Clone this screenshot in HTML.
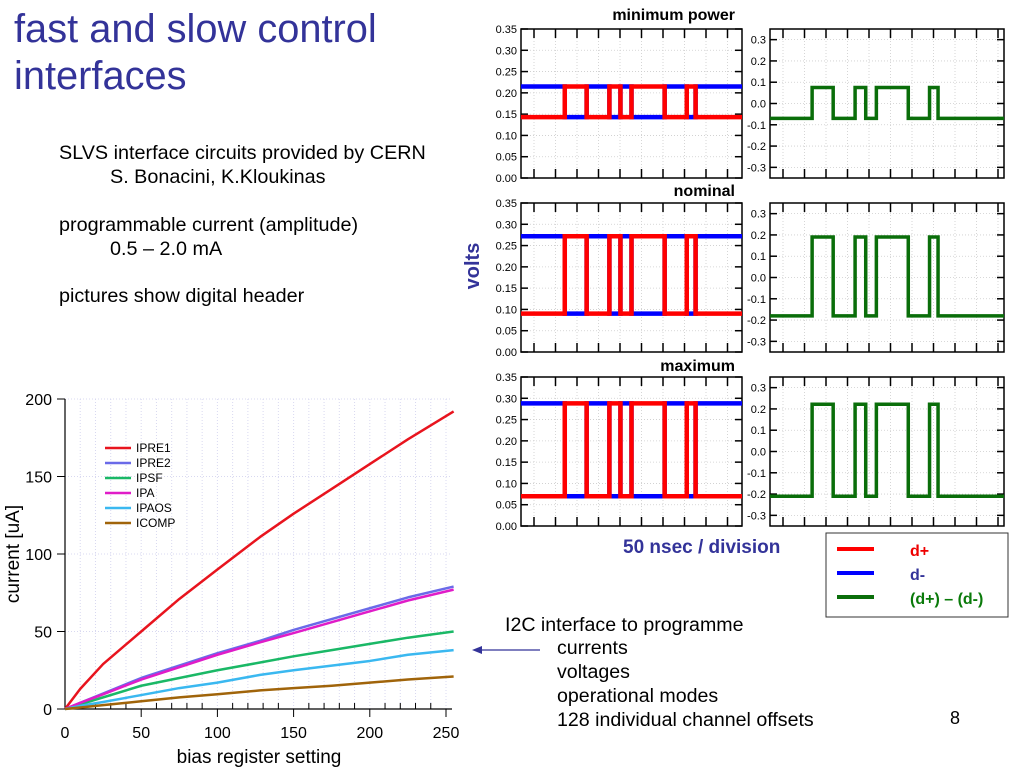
<!DOCTYPE html>
<html><head><meta charset="utf-8"><style>
html,body{margin:0;padding:0;background:#fff;}
svg{display:block;font-family:"Liberation Sans",sans-serif;}
</style></head><body>
<svg id="s" width="1024" height="768" viewBox="0 0 1024 768" xmlns="http://www.w3.org/2000/svg">
<g fill="#333399" font-size="39.8">
<text x="14" y="42">fast and slow control</text>
<text x="14" y="89">interfaces</text>
</g>
<g font-size="19.8" fill="#000">
<text x="59" y="159">SLVS interface circuits provided by CERN</text>
<text x="110" y="183">S. Bonacini, K.Kloukinas</text>
<text x="59" y="231">programmable current (amplitude)</text>
<text x="110" y="255">0.5 – 2.0 mA</text>
<text x="59" y="302">pictures show digital header</text>
</g>
<text transform="translate(479,266) rotate(-90)" text-anchor="middle" font-weight="bold" font-size="20" fill="#333399">volts</text>
<text x="623" y="553" font-weight="bold" font-size="19" fill="#333399">50 nsec / division</text>
<g>
<rect x="826" y="533" width="182" height="84" fill="#fff" stroke="#333" stroke-width="1"/>
<line x1="837" y1="549" x2="874" y2="549" stroke="#f00" stroke-width="4"/>
<text x="910" y="556" font-weight="bold" font-size="16" fill="#e00">d+</text>
<line x1="837" y1="573" x2="874" y2="573" stroke="#00f" stroke-width="4"/>
<text x="910" y="580" font-weight="bold" font-size="16" fill="#333399">d-</text>
<line x1="837" y1="597" x2="874" y2="597" stroke="#0a6e0a" stroke-width="4"/>
<text x="910" y="604" font-weight="bold" font-size="16" fill="#0a7a0a">(d+) – (d-)</text>
</g>
<g font-size="19.6" fill="#000">
<text x="505" y="631">I2C interface to programme</text>
<text x="557" y="654">currents</text>
<text x="557" y="678">voltages</text>
<text x="557" y="702">operational modes</text>
<text x="557" y="726">128 individual channel offsets</text>
</g>
<text x="950" y="724" font-size="18">8</text>
<g>
<line x1="540" y1="650" x2="480" y2="650" stroke="#333399" stroke-width="1.2"/>
<polygon points="472,650 482,646 482,654" fill="#333399"/>
</g>
<g id="scopes"></g>
<g id="bias"></g>
</svg>
<script>
// ---- scope data ----
const edgeTimes = [0.198, 0.297, 0.40, 0.45, 0.50, 0.65, 0.75, 0.79]; // fraction of left panel time span
const panelNames = ["minimum power", "nominal", "maximum"];
const highLevels = [0.215, 0.272, 0.288];
const lowLevels = [0.143, 0.090, 0.070];
const diffHigh = [0.075, 0.190, 0.222];
const diffLow = [-0.070, -0.180, -0.210];
const leftTicks = [0, 0.05, 0.10, 0.15, 0.20, 0.25, 0.30, 0.35];
const leftTickLabels = ["0.00","0.05","0.10","0.15","0.20","0.25","0.30","0.35"];
const rightTicks = [-0.3, -0.2, -0.1, 0, 0.1, 0.2, 0.3];
const rightTickLabels = ["-0.3","-0.2","-0.1","0.0","0.1","0.2","0.3"];

// ---- bias chart data ----
const biasX = [0, 10, 25, 50, 75, 100, 128, 150, 175, 200, 225, 255];
const IPRE1 = [0, 13, 29, 50, 71, 90, 111, 126, 142, 158, 174, 192];
const IPRE2 = [0, 4, 10, 20, 28, 36, 44, 51, 58, 65, 72, 79];
const IPSF = [0, 3, 7.5, 15, 20, 25, 30, 34, 38, 42, 46, 50];
const IPA = [0, 4, 9.5, 19, 27, 35, 43, 49, 56, 63, 70, 77];
const IPAOS = [0, 2, 4.5, 9, 13.5, 17, 22, 25, 28, 31, 35, 38];
const ICOMP = [0, 1, 2.5, 5, 7.5, 9.5, 12, 13.5, 15, 17, 19, 21];
const seriesNames = ["IPRE1","IPRE2","IPSF","IPA","IPAOS","ICOMP"];
const xTicks = [0, 50, 100, 150, 200, 250];
const yTicks = [0, 50, 100, 150, 200];

const NS = "http://www.w3.org/2000/svg";
function mk(tag, attrs, parent, txt){
  const e = document.createElementNS(NS, tag);
  for (const k in attrs) e.setAttribute(k, attrs[k]);
  if (txt !== undefined) e.textContent = txt;
  parent.appendChild(e); return e;
}

// ---- scopes ----
const scopes = document.getElementById("scopes");
const frames = [[29,178],[203,352],[377,526]];
const titleY = [20, 196, 371];
const L = {x0:521, x1:742}, R = {x0:770, x1:1004};
function stepPath(sx, sy, startHigh, hi, lo, end){
  let lvl = startHigh;
  let d = "M" + sx(0) + "," + sy(lvl ? hi : lo);
  edgeTimes.forEach(t => {
    d += " L" + sx(t) + "," + sy(lvl ? hi : lo);
    lvl = !lvl;
    d += " L" + sx(t) + "," + sy(lvl ? hi : lo);
  });
  d += " L" + sx(end) + "," + sy(lvl ? hi : lo);
  return d;
}
panelNames.forEach((name, i) => {
  const [top, bot] = frames[i];
  const g = mk("g", {}, scopes);
  
  
  const t = mk("text", {x:735, y:titleY[i], "text-anchor":"end", "font-weight":"bold", "font-size":"16"}, g, name);
  
  
  const syL = v => bot - v / 0.35 * (bot - top);
  const sxL = f => L.x0 + f * (L.x1 - L.x0);
  const syR = v => (top + bot) / 2 - v / 0.7 * (bot - top);
  const sxR = f => R.x0 + f / 1.1 * (R.x1 - R.x0);
  [[L, syL, leftTicks, leftTickLabels],[R, syR, rightTicks, rightTickLabels]].forEach(([P, sy, tk, tl], side) => {
    for (let k = 0; k <= 10; k++) {
      const x = P.x0 + 13 + k * 21.5;
      if (x >= P.x1 - 2) continue;
      mk("line", {x1:x, x2:x, y1:top, y2:bot, stroke:"#ccc", "stroke-dasharray":"1,2", "stroke-width":0.8}, g);
      mk("line", {x1:x, x2:x, y1:top, y2:top+9, stroke:"#000", "stroke-width":1.5}, g);
      mk("line", {x1:x, x2:x, y1:bot, y2:bot-9, stroke:"#000", "stroke-width":1.5}, g);
    }
    tk.forEach((v, j) => {
      const y = sy(v);
      mk("line", {x1:P.x0, x2:P.x1, y1:y, y2:y, stroke:"#ccc", "stroke-dasharray":"1,2", "stroke-width":0.8}, g);
      mk("line", {x1:P.x0, x2:P.x0+7, y1:y, y2:y, stroke:"#000", "stroke-width":1.5}, g);
      mk("line", {x1:P.x1, x2:P.x1-7, y1:y, y2:y, stroke:"#000", "stroke-width":1.5}, g);
      const lb = mk("text", {x:P.x0-4, y:y+4, "text-anchor":"end", "font-size":"11"}, g, tl[j]);
      
      
    });
    mk("rect", {x:P.x0, y:top, width:P.x1-P.x0, height:bot-top, fill:"none", stroke:"#000", "stroke-width":1.5}, g);
  });
  const dm = mk("path", {d:stepPath(sxL, syL, true, highLevels[i], lowLevels[i], 1), fill:"none", stroke:"#0000ff", "stroke-width":4.5}, g);
  
  
  const dp = mk("path", {d:stepPath(sxL, syL, false, highLevels[i], lowLevels[i], 1), fill:"none", stroke:"#ff0000", "stroke-width":4.5}, g);
  
  
  const df = mk("path", {d:stepPath(sxR, syR, false, diffHigh[i], diffLow[i], 1.1), fill:"none", stroke:"#0a6e0a", "stroke-width":3.5}, g);
  
  
});

// ---- bias chart ----
const bias = document.getElementById("bias");
const bx = v => 65 + v * 1.524;
const by = v => 709 - v * 1.55;
for (let v = 10; v <= 250; v += 10) {
  mk("line", {x1:bx(v), x2:bx(v), y1:399, y2:709, stroke:"#d8d8f0", "stroke-dasharray":"1,2"}, bias);
  mk("line", {x1:bx(v), x2:bx(v), y1:709, y2:v%50===0?717:703, stroke:"#000", "stroke-width":1}, bias);
}
yTicks.forEach(v => {
  if (v > 0) mk("line", {x1:65, x2:452, y1:by(v), y2:by(v), stroke:"#d8d8f0", "stroke-dasharray":"1,2"}, bias);
  mk("line", {x1:57, x2:65, y1:by(v), y2:by(v), stroke:"#000"}, bias);
  const t = mk("text", {x:52, y:by(v)+6, "text-anchor":"end", "font-size":"16"}, bias, String(v));
  
  
});
xTicks.forEach(v => {
  const t = mk("text", {x:bx(v), y:738, "text-anchor":"middle", "font-size":"16"}, bias, String(v));
  
  
});
mk("line", {x1:65, x2:65, y1:399, y2:709, stroke:"#000", "stroke-width":1.2}, bias);
mk("line", {x1:65, x2:452, y1:709, y2:709, stroke:"#000", "stroke-width":1.2}, bias);
const xt = mk("text", {x:259, y:763, "text-anchor":"middle", "font-size":"19"}, bias, "bias register setting");


const yt = mk("text", {transform:"translate(19,554) rotate(-90)", "text-anchor":"middle", "font-size":"19"}, bias, "current [uA]");


const seriesData = [IPRE1, IPRE2, IPSF, IPA, IPAOS, ICOMP];
const colors = ["#e8141e","#6a6ae8","#1ab866","#e01cc8","#3ab8f0","#a0640a"];
seriesData.forEach((arr, i) => {
  const d = arr.map((v, j) => (j ? "L" : "M") + bx(biasX[j]) + "," + by(v)).join(" ");
  const p = mk("path", {d:d, fill:"none", stroke:colors[i], "stroke-width":2.5, "stroke-linejoin":"round"}, bias);
  
  
  const ly = 448 + i * 15;
  const ll = mk("line", {x1:105, x2:131, y1:ly, y2:ly, stroke:colors[i], "stroke-width":2.5}, bias);
  
  
  const lt = mk("text", {x:136, y:ly+4, "font-size":"12"}, bias, seriesNames[i]);
  
  
});
</script>
</body></html>
